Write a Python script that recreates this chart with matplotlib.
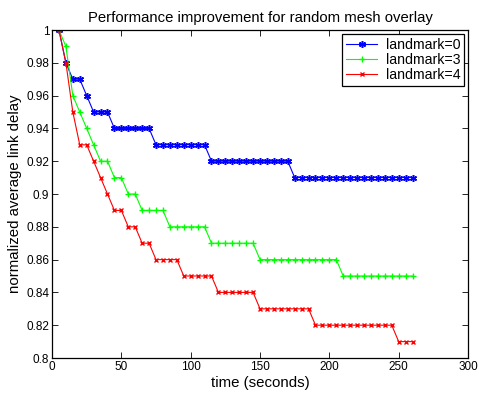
import matplotlib
matplotlib.use("Agg")
import matplotlib.pyplot as plt

# time axis (seconds), one sample every 5 s
times = [5, 10, 15, 20, 25, 30, 35, 40, 45, 50, 55, 60, 65, 70, 75, 80, 85, 90,
         95, 100, 105, 110, 115, 120, 125, 130, 135, 140, 145, 150, 155, 160,
         165, 170, 175, 180, 185, 190, 195, 200, 205, 210, 215, 220, 225, 230,
         235, 240, 245, 250, 255, 260]

landmark0 = [1.00, 0.98, 0.97, 0.97, 0.96, 0.95, 0.95, 0.95,
             0.94, 0.94, 0.94, 0.94, 0.94, 0.94,
             0.93, 0.93, 0.93, 0.93, 0.93, 0.93, 0.93, 0.93,
             0.92, 0.92, 0.92, 0.92, 0.92, 0.92, 0.92, 0.92, 0.92, 0.92, 0.92, 0.92,
             0.91, 0.91, 0.91, 0.91, 0.91, 0.91, 0.91, 0.91, 0.91,
             0.91, 0.91, 0.91, 0.91, 0.91, 0.91, 0.91, 0.91, 0.91]

landmark3 = [1.00, 0.99, 0.96, 0.95, 0.94, 0.93, 0.92, 0.92, 0.91, 0.91, 0.90, 0.90,
             0.89, 0.89, 0.89, 0.89,
             0.88, 0.88, 0.88, 0.88, 0.88, 0.88,
             0.87, 0.87, 0.87, 0.87, 0.87, 0.87, 0.87,
             0.86, 0.86, 0.86, 0.86, 0.86, 0.86, 0.86, 0.86, 0.86, 0.86, 0.86, 0.86,
             0.85, 0.85, 0.85, 0.85, 0.85, 0.85, 0.85, 0.85, 0.85, 0.85, 0.85]

landmark4 = [1.00, 0.98, 0.95, 0.93, 0.93, 0.92, 0.91, 0.90, 0.89, 0.89, 0.88, 0.88,
             0.87, 0.87,
             0.86, 0.86, 0.86, 0.86,
             0.85, 0.85, 0.85, 0.85, 0.85,
             0.84, 0.84, 0.84, 0.84, 0.84, 0.84,
             0.83, 0.83, 0.83, 0.83, 0.83, 0.83, 0.83, 0.83,
             0.82, 0.82, 0.82, 0.82, 0.82, 0.82, 0.82, 0.82, 0.82, 0.82, 0.82, 0.82,
             0.81, 0.81, 0.81]

x_ticks = [0, 50, 100, 150, 200, 250, 300]
y_ticks = [0.8, 0.82, 0.84, 0.86, 0.88, 0.9, 0.92, 0.94, 0.96, 0.98, 1.0]
y_tick_labels = ["0.8", "0.82", "0.84", "0.86", "0.88", "0.9", "0.92",
                 "0.94", "0.96", "0.98", "1"]

plt.rcParams["font.family"] = ["Liberation Sans", "DejaVu Sans"]

fig = plt.figure(figsize=(4.79, 3.97), dpi=100)
ax = fig.add_axes([0.1086, 0.0982, 0.8685, 0.8262])

# matlab style asterisk / plus / cross markers
ax.plot(times, landmark0, "-", marker=(6, 2, 0), color="blue", lw=0.8, ms=5,
        mew=1.1, label="landmark=0")
ax.plot(times, landmark3, "-+", color=(0, 1, 0), lw=0.8, ms=5, mew=1.0, label="landmark=3")
ax.plot(times, landmark4, "-x", color="red", lw=0.8, ms=3.5, mew=1.0, label="landmark=4")

ax.set_xlim(0, 300)
ax.set_ylim(0.8, 1.0)
ax.set_xticks(x_ticks)
ax.set_yticks(y_ticks)
ax.set_yticklabels(y_tick_labels)
ax.tick_params(direction="in", top=True, right=True, labelsize=8.5, length=4, width=0.6, pad=2)
for sp in ax.spines.values():
    sp.set_linewidth(0.9)

ax.set_title("Performance improvement for random mesh overlay", fontsize=10.7, pad=6)
ax.set_xlabel("time (seconds)", fontsize=10.8, labelpad=2)
ax.set_ylabel("normalized average link delay", fontsize=10.8, labelpad=3)

leg = ax.legend(loc="upper right", fontsize=10.2, fancybox=False, edgecolor="black",
                framealpha=1, borderaxespad=0.3, handlelength=2.2, labelspacing=0.08,
                borderpad=0.25, numpoints=1, handletextpad=0.6)
leg.get_frame().set_linewidth(0.9)

fig.savefig("out.png", dpi=100)
